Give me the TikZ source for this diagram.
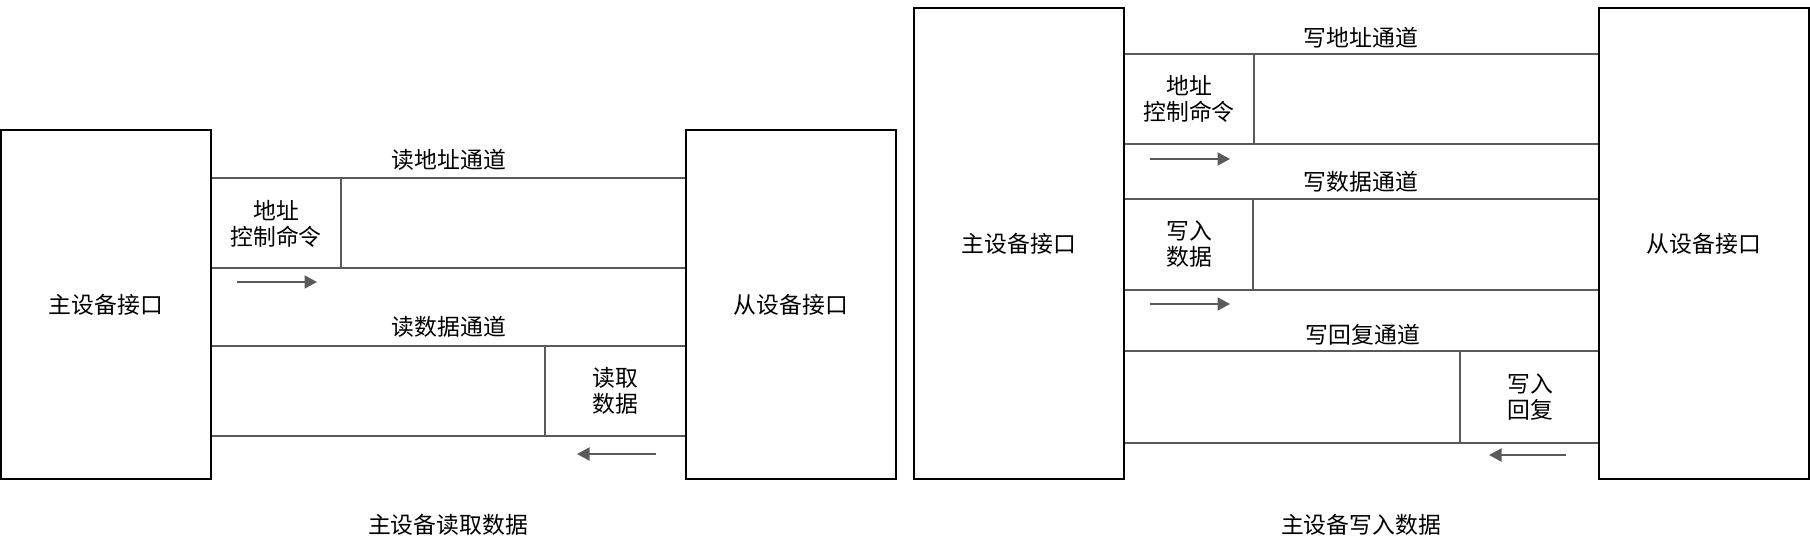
\documentclass[tikz,border=0pt]{standalone}
\usepackage{fontspec}
\setmainfont{Noto Sans CJK SC}
\usetikzlibrary{arrows.meta}
\definecolor{linegray}{RGB}{90,90,90}
\tikzset{
  txt/.style={font=\fontsize{13}{14.5}\selectfont,align=center,inner sep=0pt},
  port/.style={txt,draw=black,line width=0.04cm,minimum width=4.2cm},
  chan/.style={draw=linegray,line width=0.04cm},
  cell/.style={draw=linegray,line width=0.03cm},
  dir/.style={draw=linegray,line width=0.04cm,-{Triangle[length=0.25cm,width=0.26cm]}},
}

\begin{document}
\begin{tikzpicture}[x=0.02cm,y=-0.02cm]
		\useasboundingbox (0,0) rectangle (1810,554);
		% read side
		\node[port,minimum height=6.98cm] (mstR) at (106,304.5) {主设备接口};
		\node[port,minimum height=6.98cm] (slvR) at (791,304.5) {从设备接口};
		\foreach \y/\nm in {178/ra1,268/ra2,346/rd1,436/rd2}
		{
			\coordinate (\nm) at (449,\y);
			\draw[chan] (mstR.east |- \nm) -- (slvR.west |- \nm);
		}
		\draw[cell] (341,178) -- (341,268);
		\draw[cell] (545,346) -- (545,436);
		
		\node[txt] (raT) at (449,160) {读地址通道};
		\node[txt] (raL) at (276,224) {地址\\控制命令};
		\node[txt] (rdT) at (449,327) {读数据通道};
		\node[txt] (rdL) at (615,391) {读取\\数据};
		
		\coordinate (raA) at (237,282);
		\coordinate (rdA) at (656,454);
		\draw[dir] (raA) -- ++(80,0);
		\draw[dir] (rdA) -- ++(-79,0);
		
		\node[txt] (capR) at (448,525) {主设备读取数据};
		
		% write side
		\node[port,minimum height=9.42cm] (mstW) at (1019,243.5) {主设备接口};
		\node[port,minimum height=9.42cm] (slvW) at (1704,243.5) {从设备接口};
		\foreach \y/\nm in {54/wa1,144/wa2,199/wd1,290/wd2,351/wb1,443/wb2}
		{
			\coordinate (\nm) at (1361,\y);
			\draw[chan] (mstW.east |- \nm) -- (slvW.west |- \nm);
		}
		\draw[cell] (1254,54) -- (1254,144);
		\draw[cell] (1253,199) -- (1253,290);
		\draw[cell] (1460,351) -- (1460,443);
		
		\node[txt] (waT) at (1361,38) {写地址通道};
		\node[txt] (waL) at (1189,99) {地址\\控制命令};
		\node[txt] (wdT) at (1361,182) {写数据通道};
		\node[txt] (wdL) at (1189,244) {写入\\数据};
		\node[txt] (wbT) at (1363,335) {写回复通道};
		\node[txt] (wbL) at (1530,397) {写入\\回复};
		
		\coordinate (waA) at (1150,159);
		\coordinate (wdA) at (1150,304);
		\coordinate (wbA) at (1566,455);
		\draw[dir] (waA) -- ++(80,0);
		\draw[dir] (wdA) -- ++(80,0);
		\draw[dir] (wbA) -- ++(-77,0);
		
		\node[txt] (capW) at (1361,525) {主设备写入数据};
\end{tikzpicture}
\end{document}
